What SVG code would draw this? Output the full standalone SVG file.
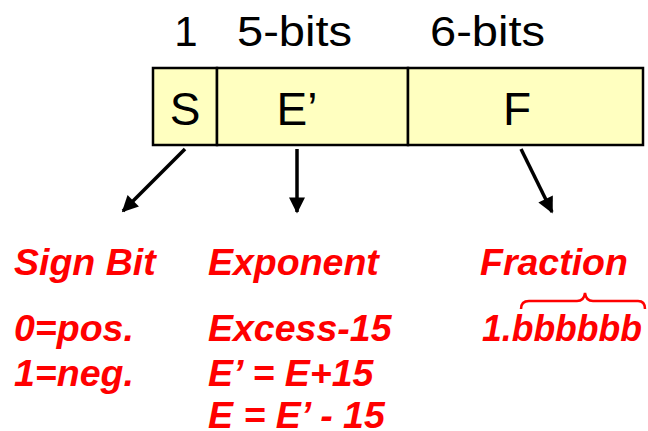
<svg xmlns="http://www.w3.org/2000/svg" width="648" height="431" viewBox="0 0 648 431">
<style>
.blk{font-family:"Liberation Sans",Arial,sans-serif;font-size:46px;fill:#000}
.hdr{font-family:"Liberation Sans",Arial,sans-serif;font-size:42px;fill:#000}
.red{font-family:"Liberation Sans",Arial,sans-serif;font-size:37.5px;font-weight:bold;font-style:italic;fill:#ff0000}
.cell{fill:#ffffc0;stroke:#000;stroke-width:2.5}
</style>
<defs>
<marker id="ah" viewBox="0 0 10 10" refX="9" refY="5" markerWidth="5" markerHeight="4.6" orient="auto" markerUnits="strokeWidth">
<path d="M0,0 L10,5 L0,10 z" fill="#000"/>
</marker>
</defs>
<g id="header">
<text class="hdr" x="186" y="46" text-anchor="middle">1</text>
<text class="hdr" x="237" y="46" textLength="115" lengthAdjust="spacingAndGlyphs">5-bits</text>
<text class="hdr" x="430" y="46" textLength="115" lengthAdjust="spacingAndGlyphs">6-bits</text>
</g>
<g id="node-S"><rect class="cell" x="153" y="68" width="64" height="77"/><text class="blk" x="185" y="125" text-anchor="middle">S</text></g>
<g id="node-E"><rect class="cell" x="217" y="68" width="191" height="77"/><text class="blk" x="297" y="125" text-anchor="middle">E’</text></g>
<g id="node-F"><rect class="cell" x="408" y="68" width="235" height="77"/><text class="blk" x="517" y="125" text-anchor="middle">F</text></g>
<g id="connectors" stroke="#000" stroke-width="3.5" fill="none">
<line x1="185" y1="149" x2="123" y2="211" marker-end="url(#ah)"/>
<line x1="297" y1="149" x2="297" y2="212" marker-end="url(#ah)"/>
<line x1="521" y1="149" x2="552" y2="212" marker-end="url(#ah)"/>
</g>
<g id="sign">
<text class="red" x="14" y="275">Sign Bit</text>
<text class="red" x="14" y="341">0=pos.</text>
<text class="red" x="14" y="386">1=neg.</text>
</g>
<g id="exponent">
<text class="red" x="208" y="275">Exponent</text>
<text class="red" x="208" y="341">Excess-15</text>
<text class="red" x="208" y="386">E’ = E+15</text>
<text class="red" x="208" y="428">E = E’ - 15</text>
</g>
<g id="fraction">
<text class="red" x="480" y="275">Fraction</text>
<text class="red" x="482" y="341" textLength="160" lengthAdjust="spacingAndGlyphs">1.bbbbbb</text>
<path d="M521,309 Q521,301 529,301 L577,301 Q584,301 585,293 Q586,301 593,301 L638,301 Q645,301 645,309" fill="none" stroke="#ff0000" stroke-width="2.5"/>
</g>
</svg>
